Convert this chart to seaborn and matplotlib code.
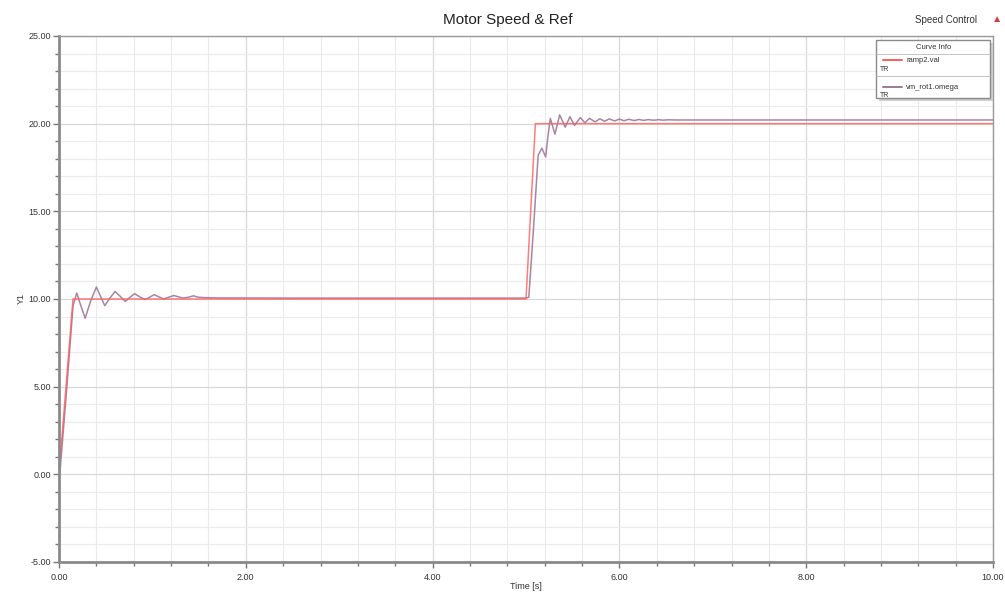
import numpy as np
import matplotlib.pyplot as plt
import seaborn as sns
from matplotlib.ticker import MultipleLocator, FormatStrFormatter
from matplotlib.lines import Line2D
from matplotlib.patches import Rectangle

# ---------- datos ----------

# referencia (ramp2.val)
ref_t = [0.0, 0.15, 5.0, 5.1, 10.0]
ref_v = [0.0, 10.0, 10.0, 20.0, 20.0]

# velocidad del motor (vm_rot1.omega)
omega_t = [0.0, 0.01, 0.08, 0.15, 0.19, 0.235, 0.28, 0.34, 0.40, 0.445, 0.49,
           0.545, 0.60, 0.655, 0.71, 0.76, 0.81, 0.865, 0.92, 0.97, 1.02, 1.07,
           1.12, 1.175, 1.23, 1.28, 1.33, 1.385, 1.44, 1.49, 1.55, 1.7, 2.5,
           4.0, 5.0, 5.03, 5.08, 5.13, 5.17, 5.21, 5.235, 5.26, 5.285, 5.31,
           5.335, 5.36, 5.39, 5.42, 5.445, 5.47, 5.495, 5.52, 5.55, 5.58, 5.605,
           5.63, 5.655, 5.68, 5.71, 5.74, 5.765, 5.79, 5.815, 5.84, 5.865, 5.89,
           5.92, 5.95, 5.975, 6.0, 6.025, 6.05, 6.075, 6.1, 6.13, 6.16, 6.185,
           6.21, 6.235, 6.26, 6.285, 6.31, 6.34, 6.37, 6.395, 6.42, 6.445, 6.47,
           6.495, 6.52, 6.6, 6.7, 10.0]
omega_v = [0.0, 0.1, 4.7, 9.6, 10.34, 9.6, 8.9, 9.9, 10.68, 10.15, 9.62,
           10.05, 10.43, 10.15, 9.86, 10.1, 10.3, 10.12, 9.97, 10.1, 10.25, 10.12,
           10.0, 10.1, 10.2, 10.12, 10.05, 10.1, 10.18, 10.1, 10.08, 10.06, 10.05,
           10.05, 10.05, 10.1, 14.0, 18.2, 18.6, 18.1, 19.3, 20.3, 19.85, 19.4,
           19.95, 20.5, 20.15, 19.8, 20.1, 20.4, 20.15, 19.9, 20.12, 20.35, 20.2,
           20.05, 20.18, 20.3, 20.2, 20.1, 20.19, 20.28, 20.21, 20.14, 20.2, 20.27,
           20.21, 20.16, 20.21, 20.26, 20.21, 20.17, 20.21, 20.25, 20.21, 20.18, 20.21,
           20.24, 20.21, 20.19, 20.21, 20.23, 20.21, 20.2, 20.21, 20.23, 20.21, 20.2,
           20.21, 20.22, 20.21, 20.21, 20.21]

titulo = "Motor Speed & Ref"
nombres = ["ramp2.val", "vm_rot1.omega"]
colores = ["#ff5c5c", "#a07896"]

# ---------- grafico ----------

sns.set_theme(style="white")
plt.rcParams['font.family'] = ['Liberation Sans', 'DejaVu Sans']

fig = plt.figure(figsize=(10.05, 5.93), dpi=100)
ax = fig.add_axes([0.0587, 0.0523, 0.9294, 0.8870])

sns.lineplot(x=omega_t, y=omega_v, ax=ax, color=colores[1], linewidth=1.1,
             estimator=None, sort=False, alpha=0.9)
sns.lineplot(x=ref_t, y=ref_v, ax=ax, color=colores[0], linewidth=1.1,
             estimator=None, sort=False, alpha=0.8)

ax.set_xlim(0, 10)
ax.set_ylim(-5, 25)
ax.xaxis.set_major_locator(MultipleLocator(2))
ax.xaxis.set_minor_locator(MultipleLocator(0.4))
ax.yaxis.set_major_locator(MultipleLocator(5))
ax.yaxis.set_minor_locator(MultipleLocator(1))
ax.xaxis.set_major_formatter(FormatStrFormatter('%.2f'))
ax.yaxis.set_major_formatter(FormatStrFormatter('%.2f'))

ax.grid(which='major', color='#d8d8d8', linewidth=0.9)
ax.grid(which='minor', color='#ebebeb', linewidth=0.8)
ax.set_axisbelow(True)

ax.tick_params(which='both', direction='out', color='#777777', labelsize=6.5,
               labelcolor='#333333', left=True, bottom=True)
ax.tick_params(which='major', length=4, width=1)
ax.tick_params(which='minor', length=3, width=1)
ax.tick_params(axis='y', pad=2)
ax.tick_params(axis='x', pad=4)

for lado in ['top', 'right']:
    ax.spines[lado].set_color('#9a9a9a')
    ax.spines[lado].set_linewidth(1.0)
for lado in ['left', 'bottom']:
    ax.spines[lado].set_color('#8a8a8a')
    ax.spines[lado].set_linewidth(2.0)

ax.set_xlabel("Time [s]", fontsize=6.5, color='#333333', labelpad=0)
ax.set_ylabel("Y1", fontsize=6.5, color='#333333', labelpad=2)

fig.text(0.505, 0.966, titulo, ha='center', va='center', fontsize=11, color='#222222')
fig.text(0.941, 0.966, "Speed Control", ha='center', va='center', fontsize=7, color='#333333')
fig.text(0.992, 0.968, "\u25b2", ha='center', va='center', fontsize=7.5, color='#d04040')

# cuadro "Curve Info"
x0, x1 = 0.875, 0.997
y0, y1 = 0.882, 0.992
ax.add_patch(Rectangle((x0 + 0.003, y0 - 0.006), x1 - x0, y1 - y0, transform=ax.transAxes,
                       facecolor='#cfcfcf', edgecolor='none', zorder=5))
ax.add_patch(Rectangle((x0, y0), x1 - x0, y1 - y0, transform=ax.transAxes,
                       facecolor='white', edgecolor='#8a8a8a', linewidth=1.0, zorder=6))
ax.text((x0 + x1) / 2, 0.978, "Curve Info", transform=ax.transAxes, ha='center',
        va='center', fontsize=5.5, color='#333333', zorder=7)
ax.add_line(Line2D([x0, x1], [0.966, 0.966], transform=ax.transAxes,
                   color='#bbbbbb', linewidth=0.6, zorder=7))
filas = [0.954, 0.903]
for nombre, color, yy in zip(nombres, colores, filas):
    ax.add_line(Line2D([x0 + 0.007, x0 + 0.027], [yy, yy], transform=ax.transAxes,
                       color=color, linewidth=1.4, zorder=7))
    ax.text(x0 + 0.032, yy, nombre, transform=ax.transAxes, ha='left', va='center',
            fontsize=5.5, color='#333333', zorder=7)
    ax.text(x0 + 0.004, yy - 0.017, "TR", transform=ax.transAxes, ha='left', va='center',
            fontsize=5, color='#333333', zorder=7)
ax.add_line(Line2D([x0, x1], [0.924, 0.924], transform=ax.transAxes,
                   color='#bbbbbb', linewidth=0.6, zorder=7))

plt.savefig("out.png", dpi=100)
